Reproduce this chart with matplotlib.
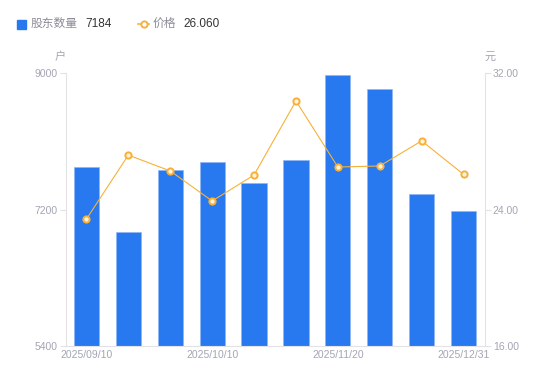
import matplotlib.pyplot as plt
import numpy as np

plt.rcParams['font.family'] = ['Liberation Sans', 'Noto Sans CJK SC', 'DejaVu Sans']

dates = ['2025/09/10', '2025/09/19', '2025/09/30', '2025/10/10', '2025/10/20',
         '2025/10/31', '2025/11/20', '2025/11/28', '2025/12/10', '2025/12/31']
holders = [7760, 6905, 7720, 7825, 7550, 7850, 8975, 8790, 7405, 7184]
price = [23.44, 27.19, 26.26, 24.50, 26.02, 30.36, 26.49, 26.55, 28.02, 26.06]
shown_ticks = [0, 3, 6, 9]

BLUE = '#2878f0'
ORANGE = '#f7b13a'
GRAY = '#a3a5b3'
AXIS = '#e3e3e6'


def main():
    fig = plt.figure(figsize=(5.5, 3.81), dpi=100)
    ax = fig.add_axes([65.5 / 550, 35 / 381, 419 / 550, 273 / 381])
    ax2 = ax.twinx()

    x = np.arange(len(dates))
    ax.bar(x, holders, width=0.6, color=BLUE, edgecolor='#8fb6f5', linewidth=0.5, zorder=2)
    ax.set_xlim(-0.5, len(dates) - 0.5)
    ax.set_ylim(5400, 9000)
    ax.set_yticks([5400, 7200, 9000])
    ax.set_xticks([x[i] for i in shown_ticks])
    ax.set_xticklabels([dates[i] for i in shown_ticks])

    ax2.plot(x, price, color=ORANGE, linewidth=0.8, marker='o', markersize=4.5,
             markerfacecolor='#fff3dc', markeredgecolor=ORANGE, markeredgewidth=1.4, zorder=3)
    ax2.set_ylim(16, 32)
    ax2.set_yticks([16, 24, 32])
    ax2.set_yticklabels(['16.00', '24.00', '32.00'])

    for a in (ax, ax2):
        for s in a.spines.values():
            s.set_visible(False)
        a.tick_params(colors=GRAY, labelsize=7.5, length=4, width=0.8)
        a.tick_params(axis='y', color=AXIS, pad=2)
    ax.spines['left'].set_visible(True)
    ax.spines['left'].set_color(AXIS)
    ax.spines['bottom'].set_visible(True)
    ax.spines['bottom'].set_color(AXIS)
    ax2.spines['right'].set_visible(True)
    ax2.spines['right'].set_color(AXIS)
    ax.tick_params(axis='x', length=0, pad=3)
    ax2.tick_params(axis='x', length=0)

    fig.text(60 / 550, 1 - 57 / 381, '户', color=GRAY, fontsize=8, ha='center', va='center')
    fig.text(490 / 550, 1 - 57 / 381, '元', color=GRAY, fontsize=8, ha='center', va='center')

    # legend row
    ly = 1 - 24 / 381
    fig.patches.append(plt.Rectangle((17 / 550, ly - 4.5 / 381), 9 / 550, 9 / 381,
                                     transform=fig.transFigure, color=BLUE, figure=fig))
    fig.text(31 / 550, ly, '股东数量', color='#8a8c99', fontsize=8.5, va='center')
    fig.text(85 / 550, ly, str(holders[-1]), color='#333333', fontsize=8.5, va='center')
    fig.add_artist(plt.Line2D([138 / 550, 149 / 550], [ly, ly], transform=fig.transFigure,
                              color=ORANGE, linewidth=1.2))
    fig.add_artist(plt.Line2D([143.5 / 550], [ly], transform=fig.transFigure, color=ORANGE,
                              marker='o', markersize=4.5, markerfacecolor='white',
                              markeredgewidth=1.4))
    fig.text(153 / 550, ly, '价格', color='#8a8c99', fontsize=8.5, va='center')
    fig.text(183 / 550, ly, '%.3f' % price[-1], color='#333333', fontsize=8.5, va='center')

    fig.savefig('out.png', dpi=100)


if __name__ == '__main__':
    main()
